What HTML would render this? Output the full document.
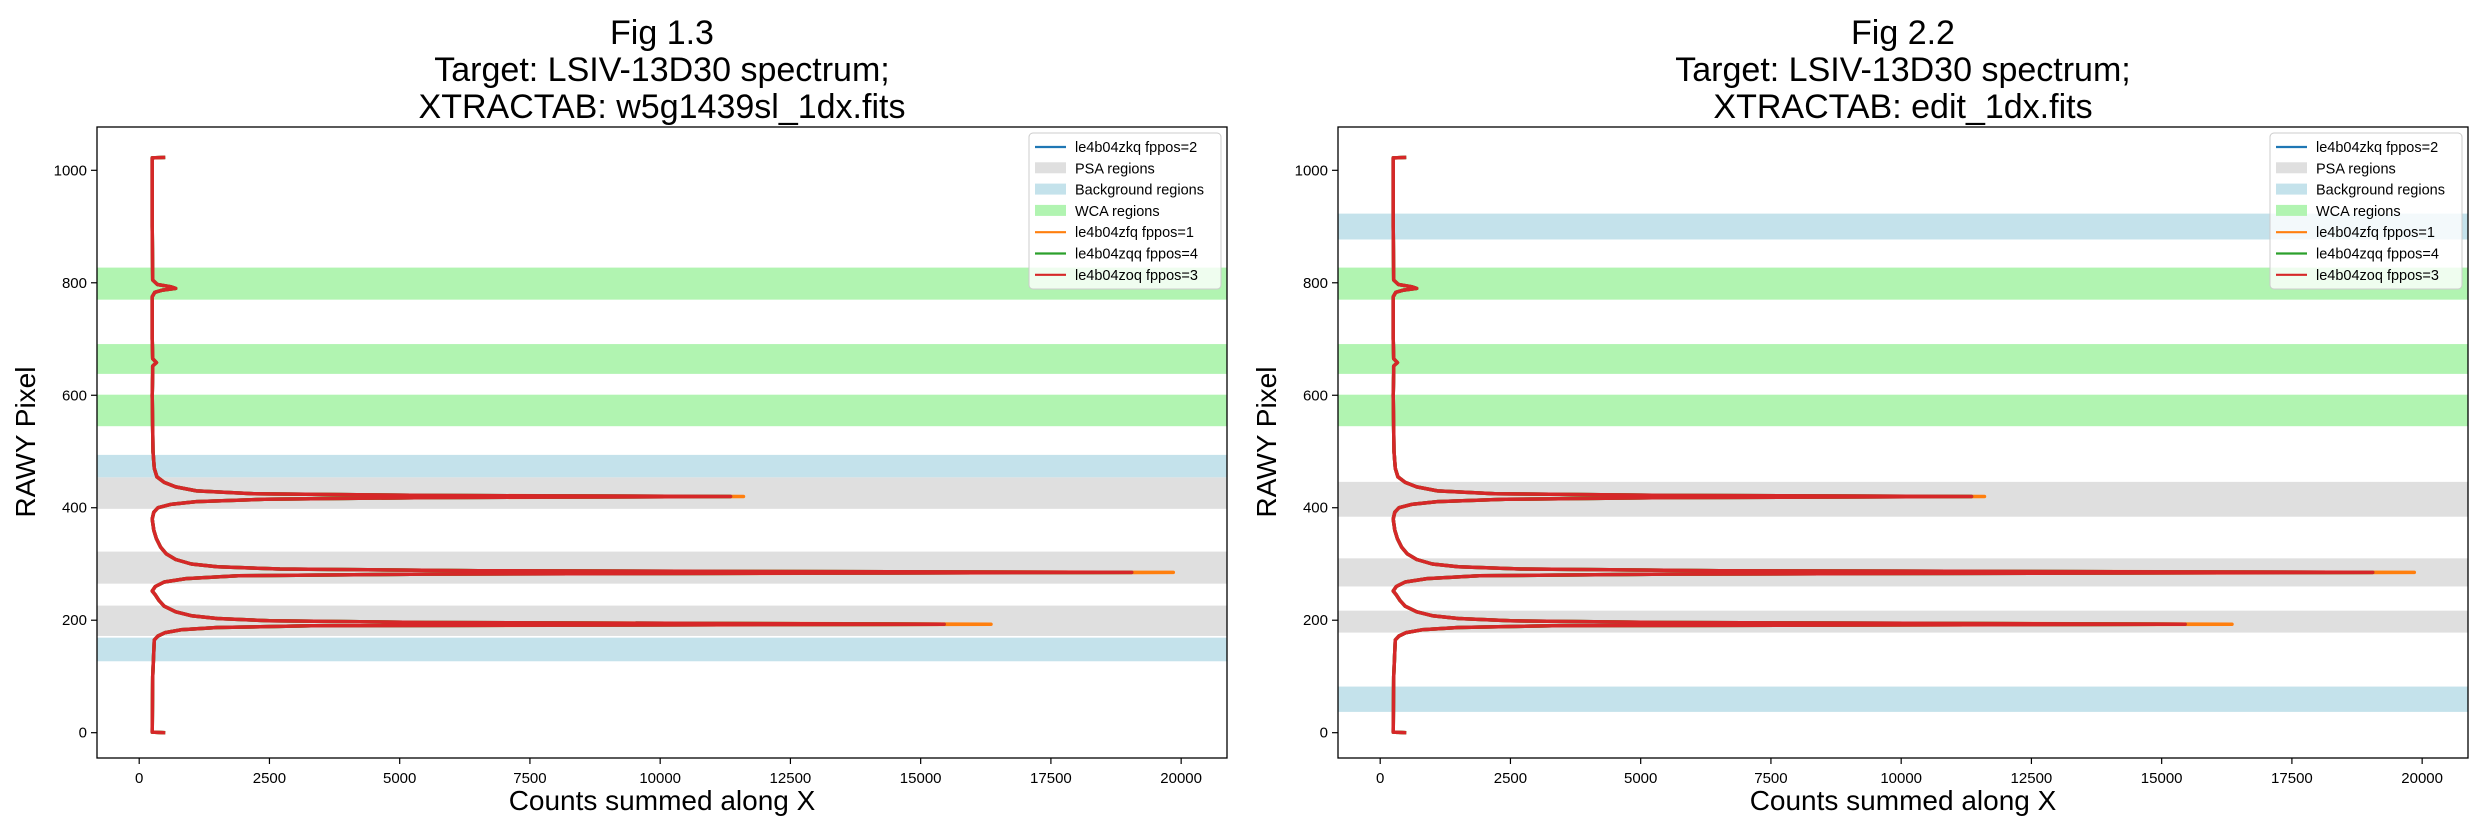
<!DOCTYPE html>
<html><head><meta charset="utf-8"><style>
body{margin:0;background:#fff;}
svg{display:block;font-family:"Liberation Sans","DejaVu Sans",sans-serif;}
</style></head><body>
<svg id="fig" width="2489" height="835" viewBox="0 0 2489 835"></svg>
<script>
const rawy=[0,1,100,165,172,178,183,187,190,193,196,199,203,208,215,225,235,245,252,260,268,274,279,282,285,288,291,295,300,308,318,330,345,360,380,392,400,406,411,415,418,420,422,425,430,437,445,455,470,500,600,640,652,658,665,700,775,783,787,790,793,797,805,900,1000,1022,1023];
const countsRed=[500,250,260,290,360,500,800,1500,3300,15450,5500,2500,1500,1000,700,480,380,310,250,310,480,900,1900,5500,19050,6500,2700,1500,1000,700,520,410,330,280,250,280,360,600,1100,2400,5500,11350,5500,2200,1100,700,480,340,290,265,250,260,260,330,260,250,250,300,450,700,600,350,260,250,250,250,500];
const peakOrange=[16350,19850,11600];
const peakIdx=[9,24,41];
const seriesNames=["le4b04zkq fppos=2","le4b04zfq fppos=1","le4b04zqq fppos=4","le4b04zoq fppos=3"];
const xTicks=[0,2500,5000,7500,10000,12500,15000,17500,20000];
const yTicks=[0,200,400,600,800,1000];
const panels=[
 {title:["Fig 1.3","Target: LSIV-13D30 spectrum;","XTRACTAB: w5g1439sl_1dx.fits"],left:97,right:1227,
  psa:[[398,454],[265,322],[172,226]],bkg:[[454,494],[127,169]],wca:[[770,827],[638,691],[545,601]]},
 {title:["Fig 2.2","Target: LSIV-13D30 spectrum;","XTRACTAB: edit_1dx.fits"],left:1338,right:2468,
  psa:[[384,446],[260,310],[178,217]],bkg:[[877,923],[37,82]],wca:[[770,827],[638,691],[545,601]]}
];
const NS="http://www.w3.org/2000/svg";
const svg=document.getElementById('fig');
function mk(t,a,p){const e=document.createElementNS(NS,t);for(const k in a)e.setAttribute(k,a[k]);(p||svg).appendChild(e);return e;}
const TOP=127,BOT=758,XMIN=-810,XMAX=20880,YMIN=-45,YMAX=1077;
panels.forEach((P,pi)=>{
 const g=mk('g',{});
 
 
 const sx=v=>P.left+(v-XMIN)/(XMAX-XMIN)*(P.right-P.left);
 const sy=v=>BOT-(v-YMIN)/(YMAX-YMIN)*(BOT-TOP);
 const cx=(P.left+P.right)/2;
 P.title.forEach((t,i)=>{const e=mk('text',{x:cx,y:44+i*37,'text-anchor':'middle','font-size':34},g);e.textContent=t;
  });
 function band(r,c,nm){const e=mk('rect',{x:P.left,y:sy(r[1]),width:P.right-P.left,height:sy(r[0])-sy(r[1]),fill:c},g);
  }
 P.wca.forEach(r=>band(r,'#b1f4b1','wca-region'));
 P.bkg.forEach(r=>band(r,'#c4e2eb','background-region'));
 P.psa.forEach(r=>band(r,'#dfdfdf','psa-region'));
 const mkPath=(arr,col,w,nm)=>{let d='';for(let i=0;i<rawy.length;i++)d+=(i?'L':'M')+sx(arr[i]).toFixed(1)+','+sy(rawy[i]).toFixed(1);
  const e=mk('path',{d:d,fill:'none',stroke:col,'stroke-width':w,'stroke-linejoin':'round'},g);
  };
 const orange=countsRed.slice();peakIdx.forEach((k,i)=>orange[k]=peakOrange[i]);
 mkPath(countsRed,'#1f77b4',3.5,'series-zkq');
 mkPath(orange,'#ff7f0e',3.5,'series-zfq');
 mkPath(countsRed,'#2ca02c',3.5,'series-zqq');
 mkPath(countsRed,'#d62728',3.5,'series-zoq');
 const fr=mk('rect',{x:P.left,y:TOP,width:P.right-P.left,height:BOT-TOP,fill:'none',stroke:'#000','stroke-width':1.3},g);
 
 xTicks.forEach(v=>{mk('line',{x1:sx(v),x2:sx(v),y1:BOT,y2:BOT+6,stroke:'#000','stroke-width':1.2},g);
  const t=mk('text',{x:sx(v),y:BOT+25,'text-anchor':'middle','font-size':15},g);t.textContent=v;
  });
 yTicks.forEach(v=>{mk('line',{x1:P.left-6,x2:P.left,y1:sy(v),y2:sy(v),stroke:'#000','stroke-width':1.2},g);
  const t=mk('text',{x:P.left-10,y:sy(v)+5,'text-anchor':'end','font-size':15},g);t.textContent=v;
  });
 const xl=mk('text',{x:cx,y:810,'text-anchor':'middle','font-size':28},g);xl.textContent='Counts summed along X';
 
 const yx=P.left-62;
 const yl=mk('text',{x:yx,y:442,'text-anchor':'middle','font-size':28,transform:'rotate(-90 '+yx+' 442)'},g);yl.textContent='RAWY Pixel';
 
 const lg=mk('g',{},g);
 
 const lx=P.right-198,ly=133;
 mk('rect',{x:lx,y:ly,width:192,height:156,rx:4,fill:'#fff','fill-opacity':0.8,stroke:'#ccc'},lg);
 const items=[['line','#1f77b4',seriesNames[0]],['patch','#dfdfdf','PSA regions'],['patch','#c4e2eb','Background regions'],['patch','#b1f4b1','WCA regions'],
  ['line','#ff7f0e',seriesNames[1]],['line','#2ca02c',seriesNames[2]],['line','#d62728',seriesNames[3]]];
 items.forEach((it,i)=>{const yy=ly+14+i*21.3;
  if(it[0]=='line')mk('line',{x1:lx+6,x2:lx+37,y1:yy,y2:yy,stroke:it[1],'stroke-width':2.2},lg);
  else mk('rect',{x:lx+6,y:yy-6,width:31,height:11,fill:it[1]},lg);
  const t=mk('text',{x:lx+46,y:yy+5,'font-size':14.5},lg);t.textContent=it[2];
  });
});
</script>
</body></html>
